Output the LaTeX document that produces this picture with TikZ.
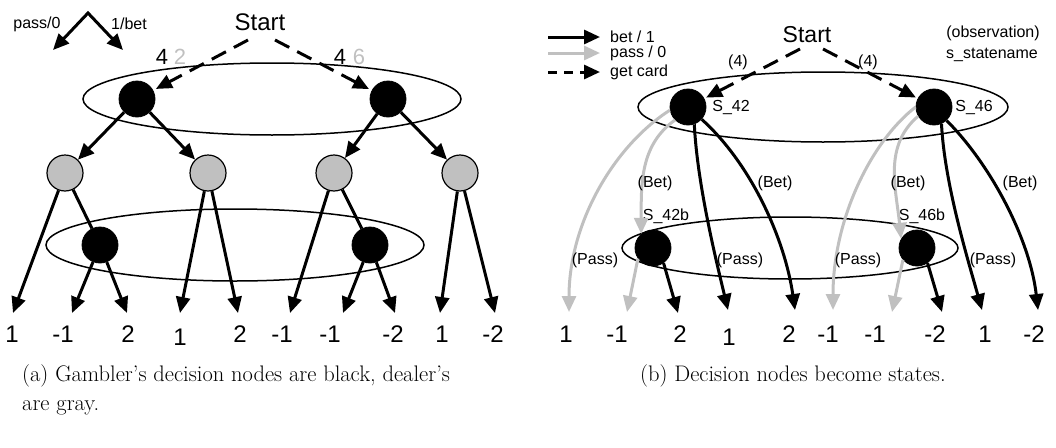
\documentclass[tikz,border=0pt]{standalone}
\usepackage{fontspec}
\newfontfamily\hv{Liberation Sans}
\usetikzlibrary{arrows.meta}
\definecolor{lg}{RGB}{192,192,192}
\begin{document}
\begin{tikzpicture}[x=1pt,y=-1pt,
  blk/.style={circle,fill=black,draw=black,line width=0.8pt,minimum size=36pt,inner sep=0pt},
  gry/.style={circle,fill=lg,draw=black,line width=1.2pt,minimum size=36pt,inner sep=0pt},
  tipstyle/.style={-{Triangle[length=16pt,width=14pt]}},
  thk/.style={line width=3pt},
  arr/.style={thk,tipstyle},
  garr/.style={arr,draw=lg},
  dsh/.style={arr,dash pattern=on 16pt off 9pt},
  ell/.style={line width=1.5pt},
  sm/.style={font=\hv\fontsize{16}{18}\selectfont,inner sep=0pt},
  big/.style={font=\hv\fontsize{24}{28}\selectfont,inner sep=0pt},
  midf/.style={font=\hv\fontsize{22}{26}\selectfont,inner sep=0pt},
  captext/.style={font=\fontsize{22.5}{29}\selectfont,inner sep=0pt,align=left,anchor=north west}
]
\useasboundingbox (0,0) rectangle (1056,447);

% ---------------- left: game tree ----------------
\draw[ell] (272,99) ellipse [x radius=189pt, y radius=36pt];
\draw[ell] (235,245) ellipse [x radius=189pt, y radius=36pt];

% legend
\node[sm] (lp) at (37,24) {pass/0};
\node[sm] (lb) at (129,24) {1/bet};
\coordinate (lgA) at (88,13);
\coordinate (lgL) at (53,50);
\coordinate (lgR) at (123,50);
\draw[thk,line join=miter,{Triangle[length=16pt,width=14pt]}-{Triangle[length=16pt,width=14pt]}] (lgL) -- (lgA) -- (lgR);

\node[big] (st1) at (260,22) {Start};
\node[midf] (c4a) at (162,57) {4};
\node[midf,text=lg] (c2) at (180,57) {2};
\node[midf] (c4b) at (340,57) {4};
\node[midf,text=lg] (c6) at (359,57) {6};

\node[blk] (A) at (137,99) {};
\node[blk] (B) at (388,99) {};
\node[gry] (G1) at (65,173) {};
\node[gry] (G2) at (208,173) {};
\node[gry] (G3) at (334,173) {};
\node[gry] (G4) at (460,173) {};
\node[blk] (C) at (100,245) {};
\node[blk] (D) at (370,245) {};

\coordinate (d1) at (248,40);
\coordinate (d2) at (275,40);
\draw[dsh,shorten >=3pt] (d1) -- (A);
\draw[dsh,shorten >=3pt] (d2) -- (B);

\draw[arr] (A) -- (G1);
\draw[arr] (A) -- (G2);
\draw[arr] (B) -- (G3);
\draw[arr] (B) -- (G4);

\coordinate (t1) at (13,313);
\coordinate (t2) at (72,313);
\coordinate (t3) at (127,313);
\coordinate (t4) at (180,313);
\coordinate (t5) at (238,313);
\coordinate (t6) at (290,313);
\coordinate (t7) at (343,313);
\coordinate (t8) at (395,313);
\coordinate (t9) at (440,313);
\coordinate (t10) at (495,313);

\draw[arr] (G1) -- (t1);
\draw[thk] (G1) -- (C);
\draw[arr] (C) -- (t2);
\draw[arr] (C) -- (t3);
\draw[arr] (G2) -- (t4);
\draw[arr] (G2) -- (t5);
\draw[arr] (G3) -- (t6);
\draw[thk] (G3) -- (D);
\draw[arr] (D) -- (t7);
\draw[arr] (D) -- (t8);
\draw[arr] (G4) -- (t9);
\draw[arr] (G4) -- (t10);

\node[big] (v1) at (12,334) {1};
\node[big] (v2) at (63,334) {-1};
\node[big] (v3) at (128,334) {2};
\node[big] (v4) at (180,337) {1};
\node[big] (v5) at (240,334) {2};
\node[big] (v6) at (282,334) {-1};
\node[big] (v7) at (330,334) {-1};
\node[big] (v8) at (393,334) {-2};
\node[big] (v9) at (442,334) {1};
\node[big] (v10) at (493,334) {-2};

% ---------------- right: states ----------------
\draw[ell] (823,107) ellipse [x radius=185pt, y radius=35pt];
\draw[ell] (790,248) ellipse [x radius=168pt, y radius=31pt];

% legend
\coordinate (la1) at (548,37);
\coordinate (la2) at (600,37);
\coordinate (lb1) at (548,53);
\coordinate (lb2) at (600,53);
\coordinate (lc1) at (548,72);
\coordinate (lc2) at (600,72);
\draw[arr] (la1) -- (la2);
\draw[garr] (lb1) -- (lb2);
\draw[arr,dash pattern=on 9pt off 7pt] (lc1) -- (lc2);
\node[sm,anchor=west] (lt1) at (610,37) {bet / 1};
\node[sm,anchor=west] (lt2) at (610,53) {pass / 0};
\node[sm,anchor=west] (lt3) at (610,72) {get card};

\node[big,font=\hv\fontsize{23}{27}\selectfont] (st2) at (807,35) {Start};
\node[sm] (obs) at (993,33) {(observation)};
\node[sm] (sn) at (992,55) {s\_statename};
\node[sm] (f1) at (738,62) {(4)};
\node[sm] (f2) at (868,62) {(4)};

\node[blk] (S42) at (688,107) {};
\node[blk] (S46) at (934,107) {};
\node[blk] (S42b) at (653,248) {};
\node[blk] (S46b) at (917,248) {};
\node[sm] (n42) at (731,108) {S\_42};
\node[sm] (n46) at (974,108) {S\_46};
\node[sm] (n42b) at (666,216) {S\_42b};
\node[sm] (n46b) at (922,216) {S\_46b};

\coordinate (e1) at (800,49);
\coordinate (e2) at (823,49);
\draw[dsh,shorten >=2pt] (e1) -- (S42);
\draw[dsh,shorten >=2pt] (e2) -- (S46);

\coordinate (r1) at (569,312);
\coordinate (r2) at (627,312);
\coordinate (r3) at (678,313);
\coordinate (r4) at (728,310);
\coordinate (r5) at (795,310);
\coordinate (r6) at (833,310);
\coordinate (r7) at (892,312);
\coordinate (r8) at (942,312);
\coordinate (r9) at (982,310);
\coordinate (r10) at (1038,310);

\draw[garr] (S42.190) .. controls +(-55,35) and +(0,-90) .. (r1);
\draw[garr] (S42.225) .. controls +(-35,25) and +(0,-50) .. (S42b.130);
\draw[arr] (S42.290) .. controls +(3,60) and +(-12,-50) .. (r4);
\draw[arr] (S42.318) .. controls +(50,45) and +(-10,-70) .. (r5);
\draw[garr] (S42b.215) -- (r2);
\draw[arr] (S42b.305) -- (r3);

\draw[garr] (S46.180) .. controls +(-45,35) and +(0,-90) .. (r6);
\draw[garr] (S46.210) .. controls +(-35,30) and +(-5,-50) .. (S46b.150);
\draw[arr] (S46.294) .. controls +(3,60) and +(-14,-50) .. (r9);
\draw[arr] (S46.313) .. controls +(45,45) and +(-8,-70) .. (r10);
\draw[garr] (S46b.220) -- (r7);
\draw[arr] (S46b.305) -- (r8);

\node[sm] (b1) at (655,183) {(Bet)};
\node[sm] (b2) at (775,183) {(Bet)};
\node[sm] (b3) at (908,183) {(Bet)};
\node[sm] (b4) at (1020,183) {(Bet)};
\node[sm] (p1) at (595,260) {(Pass)};
\node[sm] (p2) at (740,260) {(Pass)};
\node[sm] (p3) at (858,260) {(Pass)};
\node[sm] (p4) at (993,260) {(Pass)};

\node[big] (w1) at (566,334) {1};
\node[big] (w2) at (617,334) {-1};
\node[big] (w3) at (680,334) {2};
\node[big] (w4) at (729,337) {1};
\node[big] (w5) at (789,334) {2};
\node[big] (w6) at (828,334) {-1};
\node[big] (w7) at (875,334) {-1};
\node[big] (w8) at (935,334) {-2};
\node[big] (w9) at (985,334) {1};
\node[big] (w10) at (1034,334) {-2};

% captions
\node[captext] (capa) at (22,364) {(a) Gambler's decision nodes are black, dealer's\\are gray.};
\node[captext] (capb) at (640,364) {(b) Decision nodes become states.};
\end{tikzpicture}
\end{document}
